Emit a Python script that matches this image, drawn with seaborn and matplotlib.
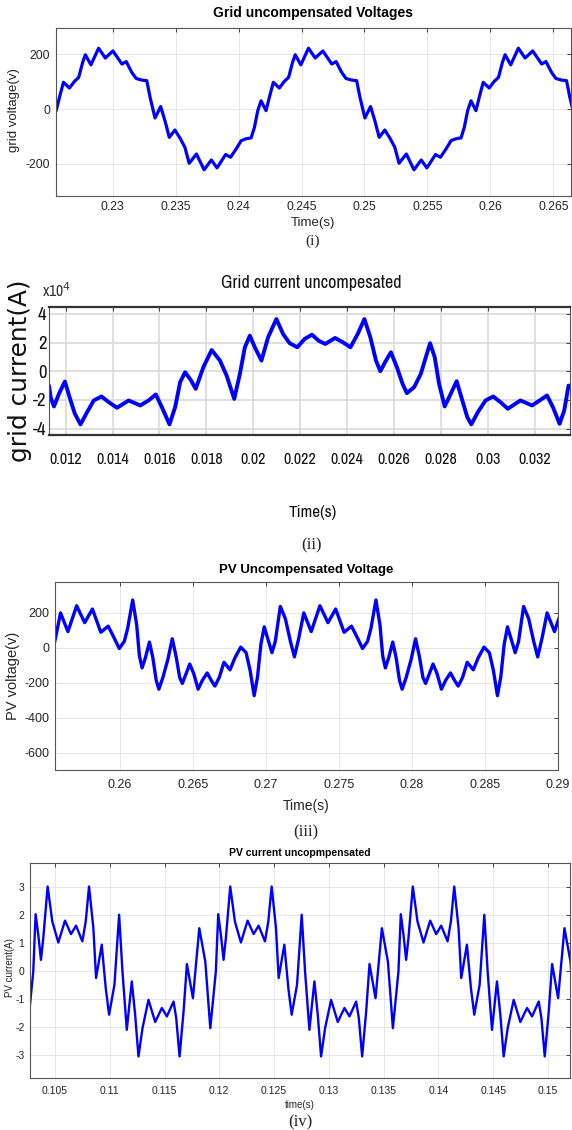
import matplotlib
matplotlib.use("Agg")
import matplotlib.pyplot as plt
from matplotlib import font_manager as fm
import seaborn as sns
import pandas as pd

# --- (i) grid voltage (V) ---
grid_v_t = [0.225517, 0.225780, 0.226096, 0.226570, 0.226965, 0.227307, 0.227622, 0.227833, 0.228280, 0.228886,
            0.229421, 0.230026, 0.230737, 0.231079, 0.231526, 0.231868, 0.232316, 0.232711, 0.232974, 0.233368,
            0.233816, 0.234158, 0.234500, 0.234947, 0.235342, 0.235737, 0.236079, 0.236658, 0.237263, 0.237842,
            0.238289, 0.238974, 0.239368, 0.239816, 0.240211, 0.240605, 0.241000, 0.241263, 0.241526, 0.241789,
            0.242184, 0.242447, 0.242763, 0.243237, 0.243632, 0.243974, 0.244289, 0.244500, 0.244947, 0.245553,
            0.246088, 0.246693, 0.247404, 0.247746, 0.248193, 0.248535, 0.248983, 0.249378, 0.249641, 0.250035,
            0.250483, 0.250825, 0.251167, 0.251614, 0.252009, 0.252404, 0.252746, 0.253325, 0.253930, 0.254509,
            0.254956, 0.255641, 0.256035, 0.256483, 0.256878, 0.257272, 0.257667, 0.257930, 0.258193, 0.258456,
            0.258851, 0.259114, 0.259430, 0.259904, 0.260299, 0.260641, 0.260956, 0.261167, 0.261614, 0.262220,
            0.262754, 0.263359, 0.264070, 0.264412, 0.264859, 0.265201, 0.265649, 0.266044, 0.266307, 0.266701]
grid_v = [-6, 43, 98, 77, 101, 116, 171, 199, 162, 223,
          187, 213, 165, 174, 134, 112, 106, 104, 43, -33,
          9, -43, -104, -77, -106, -140, -199, -165, -223, -187,
          -216, -167, -177, -146, -116, -109, -106, -67, -6, 30,
          -6, 43, 98, 77, 101, 116, 171, 199, 162, 223,
          187, 213, 165, 174, 134, 112, 106, 104, 43, -33,
          9, -43, -104, -77, -106, -140, -199, -165, -223, -187,
          -216, -167, -177, -146, -116, -109, -106, -67, -6, 30,
          -6, 43, 98, 77, 101, 116, 171, 199, 162, 223,
          187, 213, 165, 174, 134, 112, 106, 104, 43, -33]

# --- (ii) grid current (x1e4 A) ---
grid_i_t = [0.011293, 0.011364, 0.011505, 0.011717, 0.011972, 0.012170, 0.012396, 0.012636, 0.012919, 0.013202,
            0.013528, 0.013839, 0.014192, 0.014687, 0.015182, 0.015536, 0.015847, 0.016102, 0.016427, 0.016668,
            0.016880, 0.017092, 0.017347, 0.017545, 0.017870, 0.018224, 0.018578, 0.018860, 0.019186, 0.019426,
            0.019638, 0.019850, 0.020063, 0.020345, 0.020628, 0.020982, 0.021265, 0.021548, 0.021873, 0.022184,
            0.022495, 0.022778, 0.023061, 0.023485, 0.023810, 0.024136, 0.024447, 0.024730, 0.024984, 0.025225,
            0.025409, 0.025649, 0.025861, 0.026116, 0.026356, 0.026540, 0.026851, 0.027134, 0.027346, 0.027530,
            0.027728, 0.027912, 0.028152, 0.028407, 0.028662, 0.028902, 0.029114, 0.029284, 0.029567, 0.029892,
            0.030217, 0.030529, 0.030840, 0.031377, 0.031873, 0.032198, 0.032509, 0.032764, 0.033046, 0.033244,
            0.033428]
grid_i = [-1.00, -1.81, -2.46, -1.58, -0.72, -1.81, -2.97, -3.71, -2.85, -2.04,
          -1.76, -2.16, -2.55, -2.04, -2.39, -2.04, -1.62, -2.51, -3.71, -2.51,
          -0.77, -0.07, -0.65, -1.23, 0.28, 1.48, 0.74, -0.30, -1.93, -0.19,
          1.67, 2.48, 1.67, 0.74, 2.37, 3.64, 2.60, 1.95, 1.67, 2.25,
          2.55, 2.13, 1.90, 2.32, 2.02, 1.67, 2.60, 3.64, 2.37, 0.74,
          0.00, 0.74, 1.32, 0.28, -0.88, -1.53, -1.11, -0.19, 0.97, 1.95,
          0.97, -0.88, -2.46, -1.58, -0.70, -2.04, -3.20, -3.71, -2.85, -2.04,
          -1.76, -2.16, -2.62, -2.04, -2.39, -2.04, -1.69, -2.51, -3.67, -2.74,
          -1.00]

# --- (iii) PV voltage (V) ---
pv_v_t = [0.255276, 0.255574, 0.255919, 0.256425, 0.257023, 0.257574, 0.258103, 0.258678, 0.259184, 0.259597,
          0.259942, 0.260287, 0.260517, 0.260862, 0.261138, 0.261322, 0.261506, 0.261736, 0.262011, 0.262241,
          0.262471, 0.262655, 0.262931, 0.263276, 0.263575, 0.263851, 0.264080, 0.264264, 0.264540, 0.264770,
          0.265046, 0.265345, 0.265644, 0.265966, 0.266264, 0.266494, 0.266793, 0.267115, 0.267529, 0.267874,
          0.268264, 0.268632, 0.268908, 0.269184, 0.269414, 0.269644, 0.269874, 0.270172, 0.270402, 0.270632,
          0.270977, 0.271322, 0.271667, 0.271943, 0.272241, 0.272586, 0.273092, 0.273690, 0.274241, 0.274770,
          0.275345, 0.275851, 0.276264,
          0.276609, 0.276954, 0.277184, 0.277529, 0.277805, 0.277989, 0.278173, 0.278403, 0.278678, 0.278908,
          0.279138, 0.279322, 0.279598, 0.279943, 0.280242, 0.280518, 0.280747, 0.280931, 0.281207, 0.281437,
          0.281713, 0.282012, 0.282311, 0.282633, 0.282931, 0.283161, 0.283460, 0.283782, 0.284196, 0.284541,
          0.284931, 0.285299, 0.285575, 0.285851, 0.286081, 0.286311, 0.286541, 0.286839, 0.287069, 0.287299,
          0.287644, 0.287989, 0.288334, 0.288610, 0.288908, 0.289253, 0.289759, 0.290357]
pv_v = [-52, 56, 200, 93, 241, 144, 222, 89, 124, 56,
        -4, 37, 111, 274, 130, -46, -115, -56, 33, -56,
        -185, -237, -170, -65, 52, -56, -170, -204, -144, -93,
        -148, -237, -185, -144, -189, -219, -170, -83, -126, -56,
        4, -28, -130, -274, -167, 19, 120, 37, -28, 37,
        237, 167, 37, -52, 56, 200, 93, 241, 144, 222,
        89, 124, 56,
        -4, 37, 111, 274, 130, -46, -115, -56, 33, -56,
        -185, -237, -170, -65, 52, -56, -170, -204, -144, -93,
        -148, -237, -185, -144, -189, -219, -170, -83, -126, -56,
        4, -28, -130, -274, -167, 19, 120, 37, -28, 37,
        237, 167, 37, -52, 56, 200, 93, 241]

# --- (iv) PV current (A) ---
pv_i_t = [0.102510,
          0.103018, 0.103232, 0.103476, 0.103720, 0.103933, 0.104329, 0.104756, 0.105305, 0.105915, 0.106463,
          0.106921, 0.107500, 0.107805, 0.108110, 0.108506, 0.108750, 0.109268, 0.109634, 0.109939, 0.110427,
          0.110854, 0.111159, 0.111555, 0.112012, 0.112317, 0.112622, 0.112988, 0.113537, 0.114146, 0.114756,
          0.115213, 0.115823, 0.116067, 0.116372, 0.116738, 0.117043, 0.117591, 0.118171, 0.118720, 0.119177,
          0.119685, 0.119899, 0.120143, 0.120387, 0.120600, 0.120996, 0.121423, 0.121972, 0.122582, 0.123130,
          0.123588, 0.124167, 0.124472, 0.124777, 0.125173, 0.125417, 0.125935, 0.126301, 0.126606, 0.127094,
          0.127521, 0.127826, 0.128222, 0.128679, 0.128984, 0.129289, 0.129655, 0.130204, 0.130813, 0.131423,
          0.131880, 0.132490, 0.132734, 0.133039, 0.133405, 0.133710, 0.134258, 0.134838, 0.135387, 0.135844,
          0.136351, 0.136565, 0.136809, 0.137053, 0.137266, 0.137662, 0.138089, 0.138638, 0.139248, 0.139796,
          0.140254, 0.140833, 0.141138, 0.141443, 0.141839, 0.142083, 0.142601, 0.142967, 0.143272, 0.143760,
          0.144187, 0.144492, 0.144888, 0.145345, 0.145650, 0.145955, 0.146321, 0.146870, 0.147479, 0.148089,
          0.148546, 0.149156, 0.149400, 0.149705, 0.150071, 0.150376, 0.150924, 0.151504, 0.152053, 0.152510]
pv_i = [-2.05,
        -0.02, 2.02, 1.29, 0.39, 1.17, 3.01, 1.76, 1.01, 1.79, 1.31,
        1.61, 1.05, 1.76, 3.01, 1.52, -0.26, 0.93, -0.62, -1.57, -0.50,
        2.00, -0.02, -2.11, -0.38, -1.57, -3.06, -2.05, -1.04, -1.83, -1.33,
        -1.63, -1.10, -1.69, -3.06, -1.45, 0.24, -0.98, 1.52, 0.33, -2.05,
        -0.02, 2.02, 1.29, 0.39, 1.17, 3.01, 1.76, 1.01, 1.79, 1.31,
        1.61, 1.05, 1.76, 3.01, 1.52, -0.26, 0.93, -0.62, -1.57, -0.50,
        2.00, -0.02, -2.11, -0.38, -1.57, -3.06, -2.05, -1.04, -1.83, -1.33,
        -1.63, -1.10, -1.69, -3.06, -1.45, 0.24, -0.98, 1.52, 0.33, -2.05,
        -0.02, 2.02, 1.29, 0.39, 1.17, 3.01, 1.76, 1.01, 1.79, 1.31,
        1.61, 1.05, 1.76, 3.01, 1.52, -0.26, 0.93, -0.62, -1.57, -0.50,
        2.00, -0.02, -2.11, -0.38, -1.57, -3.06, -2.05, -1.04, -1.83, -1.33,
        -1.63, -1.10, -1.69, -3.06, -1.45, 0.24, -0.98, 1.52, 0.33, -2.05]

# ticks
grid_v_xticks = [0.23, 0.235, 0.24, 0.245, 0.25, 0.255, 0.26, 0.265]
grid_v_yticks = [-200, 0, 200]
grid_i_xticks = [0.012, 0.014, 0.016, 0.018, 0.02, 0.022, 0.024, 0.026, 0.028, 0.03, 0.032]
grid_i_yticks = [-4, -2, 0, 2, 4]
pv_v_xticks = [0.26, 0.265, 0.27, 0.275, 0.28, 0.285, 0.29]
pv_v_yticks = [-600, -400, -200, 0, 200]
pv_i_xticks = [0.105, 0.11, 0.115, 0.12, 0.125, 0.13, 0.135, 0.14, 0.145, 0.15]
pv_i_yticks = [-3, -2, -1, 0, 1, 2, 3]

sns.set_theme(style="whitegrid")
plt.rcParams['font.family'] = ['Liberation Sans', 'DejaVu Sans']
plt.rcParams['axes.unicode_minus'] = False
SERIF = ['Liberation Serif', 'DejaVu Serif']
TXT = '#262626'


def pick_narrow():
    # the middle panel uses tall, squeezed lettering; prefer a regular-weight face
    cands = [f for f in fm.fontManager.ttflist
             if ('Condensed' in f.name or 'Narrow' in f.name)
             and 'Mono' not in f.name and f.style == 'normal']
    for f in cands:
        if f.weight in (400, 'normal', 'regular', 'book'):
            return dict(family=f.name, fontweight='medium')
    for f in cands:
        if f.weight in (500, 'medium'):
            return dict(family=f.name, fontweight='medium')
    if cands:
        return dict(family=cands[0].name, fontweight='bold')
    return dict(family='Liberation Sans', fontweight='normal')


NARROW = pick_narrow()

W, H = 572, 1130
fig = plt.figure(figsize=(W / 100, H / 100), dpi=100)


def box(l, t, r, b):
    return [l / W, 1 - b / H, (r - l) / W, (b - t) / H]


def at(x, y):
    return x / W, 1 - y / H


def fit(txt, target, vertical=False):
    r = fig.canvas.get_renderer()
    ext = txt.get_window_extent(r)
    size = ext.height if vertical else ext.width
    txt.set_fontsize(txt.get_fontsize() * target / size)


def panel(rect, t, v, lw, xt, yt, xlim, ylim, fs, grid_c='#e3e3e3', grid_w=0.6, xpad=4):
    ax = fig.add_axes(rect)
    df = pd.DataFrame({'t': t, 'v': v})
    sns.lineplot(data=df, x='t', y='v', ax=ax, color=(0, 0, 1), linewidth=lw,
                 sort=False, estimator=None, solid_joinstyle='round', solid_capstyle='round')
    ax.set_xlim(*xlim)
    ax.set_ylim(*ylim)
    ax.set_xticks(xt)
    ax.set_yticks(yt)
    ax.set_xticklabels(['%g' % x for x in xt])
    ax.set_xlabel('')
    ax.set_ylabel('')
    ax.grid(True, color=grid_c, linewidth=grid_w)
    ax.tick_params(direction='in', top=True, right=True, length=3, width=0.6,
                   colors=TXT, labelsize=fs, pad=4)
    ax.tick_params(axis='x', pad=xpad)
    for s in ax.spines.values():
        s.set_color('#555555')
        s.set_linewidth(0.8)
    return ax


# (i)
ax1 = panel(box(55.7, 28.3, 571, 195.7), grid_v_t, grid_v, 2.3, grid_v_xticks, grid_v_yticks,
            (0.22548, 0.2664), (-318, 296), 8.8, xpad=4)
fig.text(*at(313, 13), 'Grid uncompensated Voltages', ha='center', va='center',
         fontsize=10, fontweight='bold', color='black')
fig.text(*at(14, 110), 'grid voltage(v)', rotation=90, ha='center', va='center',
         fontsize=9.5, color=TXT)
fig.text(*at(313, 223), 'Time(s)', ha='center', va='center', fontsize=9.5, color=TXT)
fig.text(*at(313, 241), '(i)', ha='center', va='center', fontsize=11, family=SERIF)

# (ii)
ax2 = panel(box(49.3, 306.7, 570, 435), grid_i_t, [v * 1e4 for v in grid_i], 2.8,
            grid_i_xticks, [v * 1e4 for v in grid_i_yticks],
            (0.011307, 0.03349), (-4.45e4, 4.5e4), 12, grid_c='#dcdcdc', grid_w=1.3, xpad=12)
ax2.set_yticklabels(['%g' % v for v in grid_i_yticks])
for lab in ax2.get_xticklabels() + ax2.get_yticklabels():
    lab.set(color='#111111', **NARROW)
ax2.tick_params(axis='y', pad=2)
for s in ['top', 'bottom']:
    ax2.spines[s].set_color('#333333')
    ax2.spines[s].set_linewidth(1.6)
t2 = fig.text(*at(311, 283), 'Grid current uncompesated', ha='center', va='center',
              fontsize=15, color='#111111', **NARROW)
t2x = fig.text(*at(57, 291), 'x10$^{4}$', ha='center', va='center', fontsize=13,
               color='#333333', **NARROW)
t2y = fig.text(*at(20, 371), 'grid current(A)', rotation=90, ha='center', va='center',
               fontsize=18, color='#111111', family='DejaVu Sans')
t2t = fig.text(*at(313, 513), 'Time(s)', ha='center', va='center', fontsize=17,
               color='#111111', **NARROW)
fig.text(*at(311, 545), '(ii)', ha='center', va='center', fontsize=12, family=SERIF)

fig.canvas.draw()
rend = fig.canvas.get_renderer()
fit(t2, 180)
fit(t2x, 29)
fit(t2y, 182, vertical=True)
fit(t2t, 48)
xl = ax2.get_xticklabels()
xs = 12 * 33 / xl[0].get_window_extent(rend).width
for lab in xl:
    lab.set_fontsize(xs)
yl = ax2.get_yticklabels()
ys = 12 * 13.5 / yl[1].get_window_extent(rend).width
for lab in yl:
    lab.set_fontsize(ys)

# (iii)
ax3 = panel(box(55, 582, 558, 769.5), pv_v_t, pv_v, 2.4, pv_v_xticks, pv_v_yticks,
            (0.25554, 0.29), (-697, 377), 9, xpad=7)
fig.text(*at(306, 570), 'PV Uncompensated Voltage', ha='center', va='center',
         fontsize=9.5, fontweight='bold', color='black')
fig.text(*at(13, 676), 'PV voltage(v)', rotation=90, ha='center', va='center',
         fontsize=10.5, color=TXT)
fig.text(*at(306, 806), 'Time(s)', ha='center', va='center', fontsize=10, color=TXT)
fig.text(*at(306, 832), '(iii)', ha='center', va='center', fontsize=12, family=SERIF)

# (iv)
ax4 = panel(box(30, 862.7, 570, 1077.7), pv_i_t, pv_i, 1.7, pv_i_xticks, pv_i_yticks,
            (0.10272, 0.15201), (-3.82, 3.86), 7.5, xpad=6)
fig.text(*at(300, 853), 'PV current uncopmpensated', ha='center', va='center',
         fontsize=7.5, fontweight='bold', color='black')
fig.text(*at(10, 968), 'PV current(A)', rotation=90, ha='center', va='center',
         fontsize=7, color=TXT)
fig.text(*at(300, 1105), 'time(s)', ha='center', va='center', fontsize=7, color=TXT)
fig.text(*at(300, 1122), '(iv)', ha='center', va='center', fontsize=12, family=SERIF,
         bbox=dict(facecolor='white', edgecolor='none', pad=1))

fig.savefig('out.png', dpi=100)
